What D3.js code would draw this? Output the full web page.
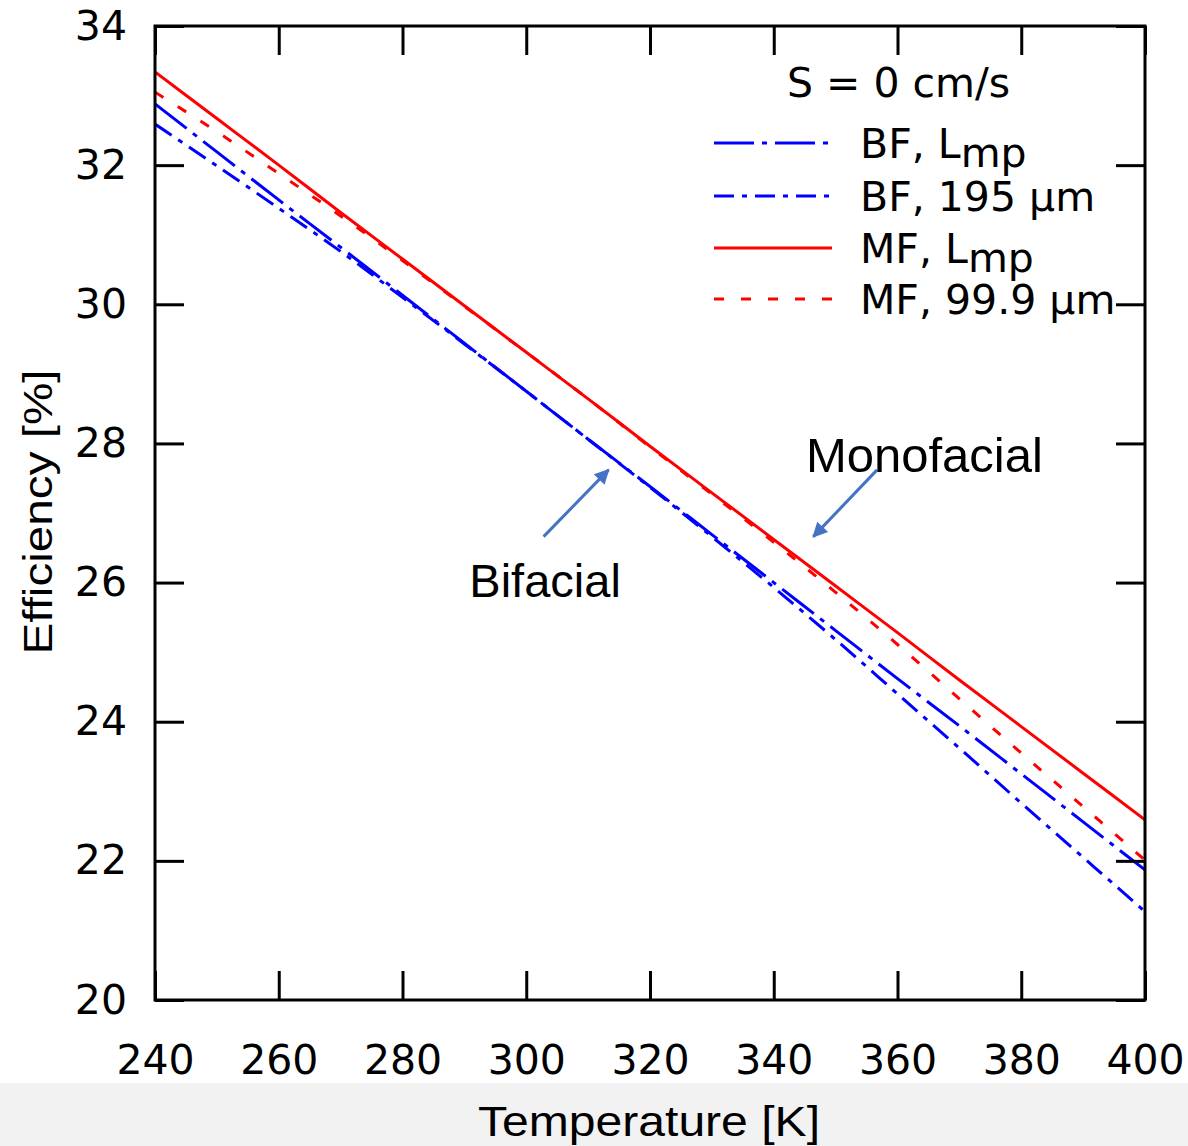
<!DOCTYPE html>
<html>
<head>
<meta charset="utf-8">
<script src="https://cdn.jsdelivr.net/npm/d3@7"></script>
<style>
  body { margin: 0; background: #fff; }
  svg { display: block; }
</style>
</head>
<body>
<svg id="chart" width="1188" height="1146"></svg>
<script>
// temperatures (K) and efficiencies (%)
const temps = [240, 250, 260, 270, 280, 290, 300, 310, 320, 330, 340, 350, 360, 370, 380, 390, 400];
const bfLmp = [32.88, 32.19, 31.50, 30.82, 30.13, 29.44, 28.75, 28.06, 27.38, 26.69, 26.00, 25.31, 24.62, 23.94, 23.25, 22.56, 21.87];
const bf195 = [32.59, 31.99, 31.38, 30.76, 30.10, 29.43, 28.75, 28.06, 27.37, 26.66, 25.93, 25.18, 24.40, 23.62, 22.83, 22.05, 21.27];
const mfLmp = [33.34, 32.67, 32.00, 31.32, 30.65, 29.98, 29.31, 28.64, 27.96, 27.29, 26.62, 25.95, 25.28, 24.60, 23.93, 23.26, 22.59];
const mf999 = [33.05, 32.48, 31.88, 31.27, 30.63, 29.97, 29.31, 28.64, 27.95, 27.27, 26.58, 25.86, 25.11, 24.33, 23.55, 22.78, 22.01];

const xTicks = [240, 260, 280, 300, 320, 340, 360, 380, 400];
const yTicks = [20, 22, 24, 26, 28, 30, 32, 34];

// series: label main text, subscript, values, colour, dash
const series = [
  { name: 'BF, L', sub: 'mp', values: bfLmp, color: '#0000ff', dash: '40,8,5,8' },
  { name: 'BF, 195 µm', sub: '', values: bf195, color: '#0000ff', dash: '20,8,5,8' },
  { name: 'MF, L', sub: 'mp', values: mfLmp, color: '#ff0000', dash: null },
  { name: 'MF, 99.9 µm', sub: '', values: mf999, color: '#ff0000', dash: '10,17' }
];

// annotation arrows in data units: [T start, eff start, T tip, eff tip]
const arrows = [
  [302.8, 26.66, 313.3, 27.62],
  [356.7, 27.62, 346.4, 26.66]
];
const notes = [
  { text: 'Bifacial', t: 290.8, e: 25.79 },
  { text: 'Monofacial', t: 345.2, e: 27.59 }
];

const svg = d3.select('#chart');
const margin = { left: 155, top: 26, right: 43, bottom: 146 };
const W = 1188 - margin.left - margin.right;
const H = 1146 - margin.top - margin.bottom;

// grey strip at the bottom of the picture
svg.append('rect')
  .attr('x', 0).attr('y', 1083)
  .attr('width', 1188).attr('height', 63)
  .attr('fill', '#f2f2f2');

const x = d3.scaleLinear().domain([240, 400]).range([0, W]);
const y = d3.scaleLinear().domain([20, 34]).range([H, 0]);

const g = svg.append('g').attr('transform', `translate(${margin.left},${margin.top})`);

g.append('clipPath').attr('id', 'clip')
  .append('rect').attr('width', W).attr('height', H);

// lines
const line = d3.line()
  .x((d, i) => x(temps[i]))
  .y(d => y(d))
  .curve(d3.curveMonotoneX);

g.append('g').attr('clip-path', 'url(#clip)')
  .selectAll('path')
  .data(series)
  .enter()
  .append('path')
  .attr('d', d => line(d.values))
  .attr('fill', 'none')
  .attr('stroke', d => d.color)
  .attr('stroke-width', 3)
  .attr('stroke-dasharray', d => d.dash);

// axes, ticks pointing inwards on all four sides
const tickLen = 29;
const styleAxis = sel => {
  sel.select('.domain').remove();
  sel.selectAll('.tick line').attr('stroke', '#000').attr('stroke-width', 3);
  sel.selectAll('.tick text')
    .attr('font-family', 'DejaVu Sans')
    .attr('font-size', 41)
    .attr('fill', '#000');
};

g.append('g').attr('transform', `translate(0,${H})`)
  .call(d3.axisBottom(x).tickValues(xTicks).tickSizeInner(-tickLen).tickSizeOuter(0).tickPadding(45))
  .call(styleAxis);
g.append('g')
  .call(d3.axisTop(x).tickValues(xTicks).tickSizeInner(-tickLen).tickSizeOuter(0).tickFormat(''))
  .call(styleAxis);
g.append('g')
  .call(d3.axisLeft(y).tickValues(yTicks).tickSizeInner(-tickLen).tickSizeOuter(0).tickPadding(28))
  .call(styleAxis);
g.append('g').attr('transform', `translate(${W},0)`)
  .call(d3.axisRight(y).tickValues(yTicks).tickSizeInner(-tickLen).tickSizeOuter(0).tickFormat(''))
  .call(styleAxis);

// frame
g.append('rect')
  .attr('width', W).attr('height', H)
  .attr('fill', 'none')
  .attr('stroke', '#000')
  .attr('stroke-width', 3);

// legend
const legend = svg.append('g').attr('font-family', 'DejaVu Sans').attr('font-size', 41);
legend.append('text')
  .attr('x', 787).attr('y', 97)
  .text('S = 0 cm/s');

const rowY = [143, 196, 248, 299];
series.forEach((s, i) => {
  legend.append('line')
    .attr('x1', 714).attr('x2', 832)
    .attr('y1', rowY[i]).attr('y2', rowY[i])
    .attr('stroke', s.color)
    .attr('stroke-width', 3)
    .attr('stroke-dasharray', s.dash);
  const t = legend.append('text')
    .attr('x', 860).attr('y', rowY[i] + 15);
  t.append('tspan').text(s.name);
  if (s.sub) t.append('tspan').attr('dy', 9).text(s.sub);
});

// annotations
svg.append('defs').append('marker')
  .attr('id', 'head')
  .attr('viewBox', '0 0 10 10')
  .attr('refX', 9).attr('refY', 5)
  .attr('markerWidth', 5.5).attr('markerHeight', 5)
  .attr('orient', 'auto')
  .append('path')
  .attr('d', 'M0,0 L10,5 L0,10 Z')
  .attr('fill', '#4472c4');

g.selectAll('line.arrow')
  .data(arrows)
  .enter()
  .append('line')
  .attr('class', 'arrow')
  .attr('x1', d => x(d[0])).attr('y1', d => y(d[1]))
  .attr('x2', d => x(d[2])).attr('y2', d => y(d[3]))
  .attr('stroke', '#4472c4')
  .attr('stroke-width', 3)
  .attr('marker-end', 'url(#head)');

g.selectAll('text.note')
  .data(notes)
  .enter()
  .append('text')
  .attr('class', 'note')
  .attr('x', d => x(d.t)).attr('y', d => y(d.e))
  .attr('font-family', 'Liberation Sans')
  .attr('font-size', d => d.text === 'Monofacial' ? 49 : 47)
  .text(d => d.text);

// axis titles
svg.append('text')
  .attr('x', 649).attr('y', 1136)
  .attr('text-anchor', 'middle')
  .attr('font-family', 'Liberation Sans')
  .attr('font-size', 42)
  .attr('textLength', 342)
  .attr('lengthAdjust', 'spacingAndGlyphs')
  .text('Temperature [K]');

svg.append('text')
  .attr('transform', 'translate(52,512) rotate(-90)')
  .attr('text-anchor', 'middle')
  .attr('font-family', 'Liberation Sans')
  .attr('font-size', 40)
  .attr('textLength', 285)
  .attr('lengthAdjust', 'spacingAndGlyphs')
  .text('Efficiency [%]');
</script>
</body>
</html>
